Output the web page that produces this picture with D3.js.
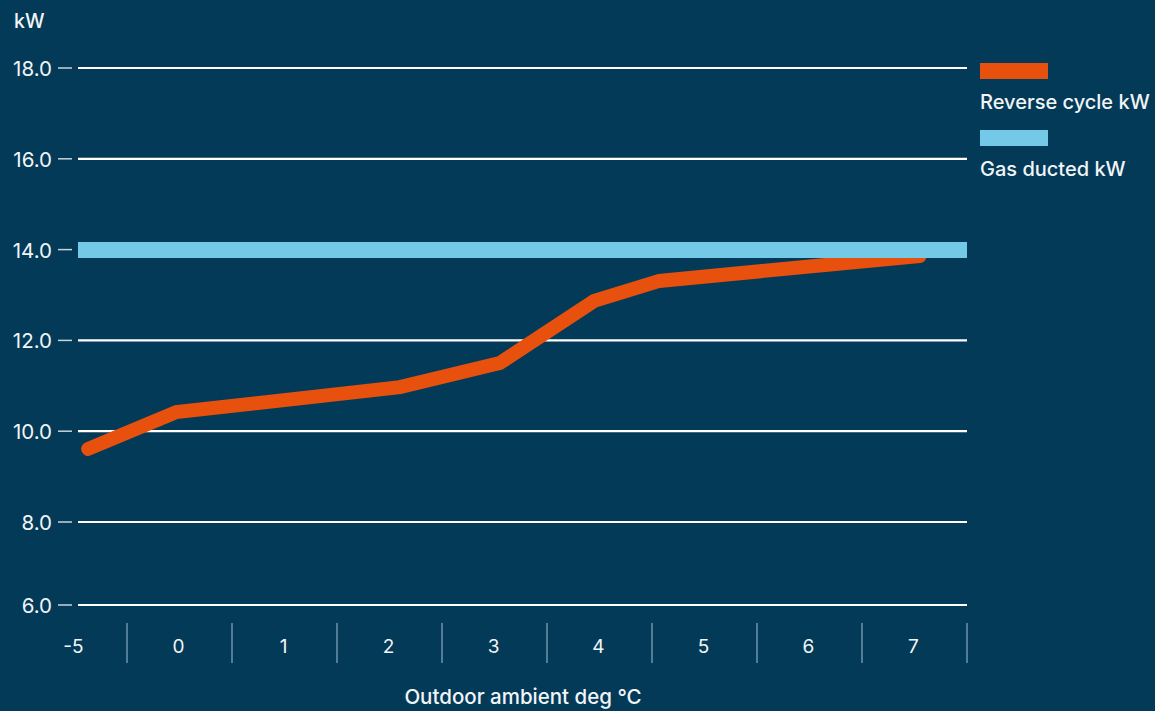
<!DOCTYPE html>
<html>
<head>
<meta charset="utf-8">
<script src="https://cdn.jsdelivr.net/npm/d3@7"></script>
<style>
	body { margin:0; background:#033a58; }
	svg text { font-family: Inter, "Noto Sans", sans-serif; fill:#f2f5f7; }
</style>
</head>
<body>
<div id="chart"></div>
<script>

// data

var categories = ["-5","0","1","2","3","4","5","6","7"];
var yticks = [6,8,10,12,14,16,18];

// reverse cycle curve: position along the category axis (index) and kW
var rc_pos = [0.13, 0.97, 3.1, 4.05, 4.95, 5.57, 8.05];
var rc_kw = [9.61, 10.42, 10.97, 11.5, 12.87, 13.31, 13.86];

// gas ducted is flat
var gas_kw = 14.0;

var legend_names = ["Reverse cycle kW", "Gas ducted kW"];

var width = 1155,
	height = 711,
	bg = "#033a58",
	rc_color = "#e8500e",
	gas_color = "#74c9e8",
	grid_left = 78,
	grid_right = 967;

var svg = d3.select("#chart").append("svg")
	.attr("width",width)
	.attr("height",height)

svg.append("rect").attr("width",width).attr("height",height).attr("fill",bg)

// scales (bottom segment of the y axis is squeezed in the original)
var Y = d3.scaleLinear().domain([6,8,18]).range([605,522,68]);
var X = d3.scaleBand().domain(categories).range([22,967]);
var XI = d3.scaleLinear().domain([0,categories.length-1])
	.range([X(categories[0]) + X.bandwidth()/2, X(categories[categories.length-1]) + X.bandwidth()/2]);

// grid lines
svg.selectAll(".grid").data(yticks).enter().append("line")
	.attr("x1",grid_left).attr("x2",grid_right)
	.attr("y1",function(d){return Y(d)}).attr("y2",function(d){return Y(d)})
	.attr("stroke","#ffffff").attr("stroke-width",2.2)

// y axis: labels and small dashes
var yaxis = svg.append("g")
yaxis.selectAll(".ytick").data(yticks).enter().append("line")
	.attr("x1",58).attr("x2",72)
	.attr("y1",function(d){return Y(d)}).attr("y2",function(d){return Y(d)})
	.attr("stroke","#c9d3da").attr("stroke-width",1.5)
yaxis.selectAll(".ylabel").data(yticks).enter().append("text")
	.attr("x",52).attr("y",function(d){return Y(d) + 8})
	.attr("text-anchor","end")
	.style("font-size","20.5px")
	.text(function(d){return d3.format(".1f")(d)})

svg.append("text").attr("x",14).attr("y",28).style("font-size","19.5px").style("font-weight",500).text("kW")

// x axis: separators and labels
svg.selectAll(".xsep").data(categories).enter().append("line")
	.attr("x1",function(d){return X(d)+X.bandwidth()}).attr("x2",function(d){return X(d)+X.bandwidth()})
	.attr("y1",623).attr("y2",663)
	.attr("stroke","#6f93ab").attr("stroke-width",1.5)
svg.selectAll(".xlabel").data(categories).enter().append("text")
	.attr("x",function(d){return X(d)+X.bandwidth()/2 - 1})
	.attr("y",653)
	.attr("text-anchor","middle")
	.style("font-size","19px")
	.text(function(d){return d})

svg.append("text").attr("x",523).attr("y",704).attr("text-anchor","middle")
	.style("font-size","20.5px").style("font-weight",500)
	.text("Outdoor ambient deg °C")

// reverse cycle line
var rc = rc_pos.map(function(d,i){return [XI(d), Y(rc_kw[i])]});
svg.append("path").datum(rc)
	.attr("d",d3.line())
	.attr("fill","none")
	.attr("stroke",rc_color)
	.attr("stroke-width",14)
	.attr("stroke-linejoin","miter")
	.attr("stroke-linecap","round")

// gas ducted band on top
svg.append("line")
	.attr("x1",grid_left).attr("x2",grid_right)
	.attr("y1",Y(gas_kw)+0.5).attr("y2",Y(gas_kw)+0.5)
	.attr("stroke",gas_color).attr("stroke-width",16)

// legend
var legend = svg.selectAll(".legend").data(legend_names).enter().append("g")
	.attr("transform",function(d,i){return "translate(980,"+(63+i*67)+")"})
legend.append("rect").attr("width",68).attr("height",16)
	.attr("fill",function(d,i){return i==0 ? rc_color : gas_color})
legend.append("text").attr("x",0).attr("y",46)
	.style("font-size","20px").style("font-weight",500)
	.text(function(d){return d})

</script>
</body>
</html>
